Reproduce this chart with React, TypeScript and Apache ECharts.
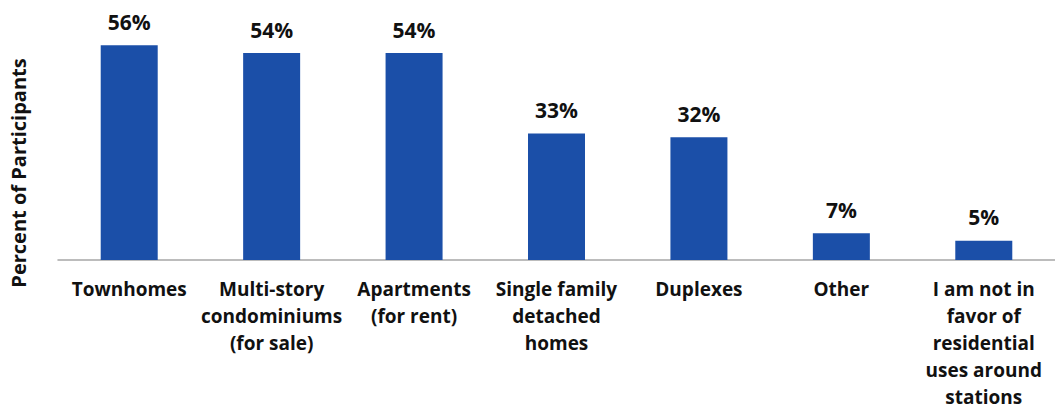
import React, { useEffect, useRef } from "react";
import * as echarts from "echarts";

const categories = [
  "Townhomes",
  "Multi-story\ncondominiums\n(for sale)",
  "Apartments\n(for rent)",
  "Single family\ndetached\nhomes",
  "Duplexes",
  "Other",
  "I am not in\nfavor of\nresidential\nuses around\nstations",
];
const values = [56, 54, 54, 33, 32, 7, 5];
const yAxisTitle = "Percent of Participants";

export default function App() {
  const ref = useRef<HTMLDivElement>(null);
  useEffect(() => {
    if (!ref.current) return;
    const chart = echarts.init(ref.current, null, { renderer: "svg" });
    const font = "'Open Sans', Lato, sans-serif";
    chart.setOption({
      animation: false,
      grid: { left: 58, top: 30, width: 1001, bottom: 151, containLabel: false },
      xAxis: {
        type: "category",
        data: categories,
        axisLine: { lineStyle: { color: "#a6a6a6", width: 1.5 } },
        axisTick: { show: false },
        axisLabel: {
          interval: 0,
          margin: 15,
          color: "#111111",
          fontFamily: font,
          fontWeight: "bold",
          fontSize: 19,
          lineHeight: 27,
        },
      },
      yAxis: {
        type: "value",
        min: 0,
        max: 60,
        show: false,
        splitLine: { show: false },
      },
      graphic: [
        {
          type: "text",
          x: 18,
          y: 173,
          rotation: Math.PI / 2,
          style: {
            text: yAxisTitle,
            fill: "#111111",
            font: `bold 20px ${font}`,
            textAlign: "center",
            textVerticalAlign: "middle",
          },
        },
      ],
      series: [
        {
          type: "bar",
          data: values,
          barWidth: 57,
          itemStyle: { color: "#1b4fa8" },
          label: {
            show: true,
            position: "top",
            distance: 13,
            formatter: "{c}%",
            color: "#111111",
            fontFamily: font,
            fontWeight: "bold",
            fontSize: 21,
          },
        },
      ],
    });
    return () => chart.dispose();
  }, []);
  return <div ref={ref} style={{ width: 1055, height: 411, position: "absolute", left: 0, top: 0 }} />;
}
